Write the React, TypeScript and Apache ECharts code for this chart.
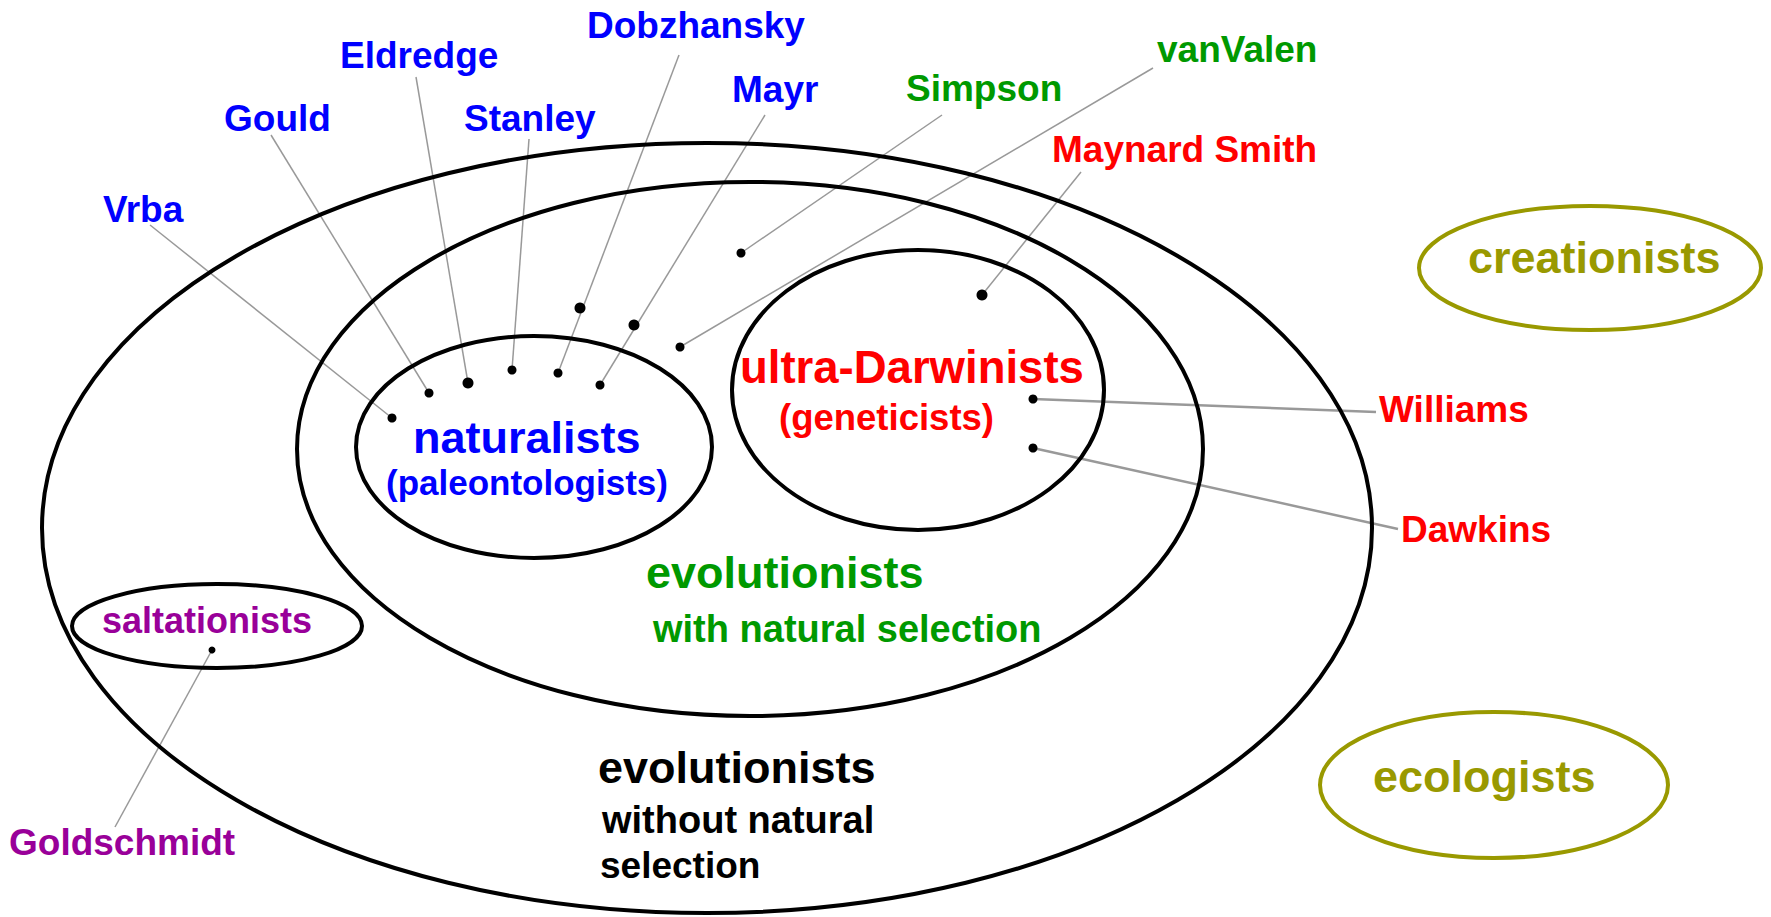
import React, { useEffect, useRef } from "react";
import * as echarts from "echarts";

const W = 1771;
const H = 917;

const BLACK = "#000000";
const BLUE = "#0000ff";
const GREEN = "#009900";
const RED = "#ff0000";
const PURPLE = "#990099";
const OLIVE = "#999900";
const GREY = "#999999";

// Sets drawn as ellipses: centre x, centre y, radius x, radius y
const setNames = ["evolutionists", "with natural selection", "naturalists", "ultra-Darwinists", "saltationists", "creationists", "ecologists"];
const setCx = [707, 750, 534, 918, 217, 1590, 1494];
const setCy = [528, 449, 447, 390, 626, 268, 785];
const setRx = [665, 453, 178, 186, 145, 171, 174];
const setRy = [385, 267, 111, 140, 42, 62, 73];
const setColor = [BLACK, BLACK, BLACK, BLACK, BLACK, OLIVE, OLIVE];

// Group titles: text, left x, baseline y, font size, colour
const titleTexts = [
  "naturalists", "(paleontologists)", "ultra-Darwinists", "(geneticists)",
  "evolutionists", "with natural selection", "evolutionists", "without natural", "selection",
  "saltationists", "creationists", "ecologists",
];
const titleX = [413, 386, 740, 779, 646, 653, 598, 602, 600, 102, 1468, 1373];
const titleY = [453, 495, 383, 430, 588, 642, 783, 833, 878, 633, 273, 792];
const titleSize = [45, 35, 45.5, 36.5, 45, 38, 45, 38, 37, 36, 45, 45];
const titleColor = [BLUE, BLUE, RED, RED, GREEN, GREEN, BLACK, BLACK, BLACK, PURPLE, OLIVE, OLIVE];

// People: name, label position (left x, baseline y), leader line start, dots
const people = ["Vrba", "Gould", "Eldredge", "Stanley", "Dobzhansky", "Mayr", "Simpson", "vanValen", "Maynard Smith", "Williams", "Dawkins", "Goldschmidt"];
const personColor = [BLUE, BLUE, BLUE, BLUE, BLUE, BLUE, GREEN, GREEN, RED, RED, RED, PURPLE];
const personX = [103, 224, 340, 464, 587, 732, 906, 1157, 1052, 1379, 1401, 9];
const personY = [222, 131, 68, 131, 38, 102, 101, 62, 162, 422, 542, 855];
const lineStart: number[][] = [
  [150, 225], [271, 135], [416, 77], [529, 139], [679, 55], [765, 115],
  [942, 115], [1153, 68], [1081, 172], [1376, 412], [1398, 529], [115, 827],
];
const lineEnd: number[][] = [
  [392, 418], [429, 393], [468, 383], [512, 370], [558, 373], [600, 385],
  [741, 253], [680, 347], [982, 295], [1033, 399], [1033, 448], [212, 650],
];
const extraDots: number[][] = [[580, 308], [634, 325]];
const bigDots = [2, 8];

function App() {
  const ref = useRef<HTMLDivElement>(null);
  useEffect(() => {
    document.body.style.margin = "0";
    const chart = echarts.init(ref.current!, null, { renderer: "svg", width: W, height: H });
    const font = '"Liberation Sans", Arial, sans-serif';
    const elements: any[] = [];
    elements.push({ type: "rect", shape: { x: 0, y: 0, width: W, height: H }, style: { fill: "#ffffff" }, silent: true });
    people.forEach((_, i) => {
      const thick = i === 9 || i === 10;
      elements.push({
        type: "line",
        shape: { x1: lineStart[i][0], y1: lineStart[i][1], x2: lineEnd[i][0], y2: lineEnd[i][1] },
        style: { stroke: GREY, lineWidth: thick ? 2.5 : 1.5 },
      });
    });
    setNames.forEach((_, i) => {
      elements.push({
        type: "ellipse",
        shape: { cx: setCx[i], cy: setCy[i], rx: setRx[i], ry: setRy[i] },
        style: { fill: "none", stroke: setColor[i], lineWidth: 4 },
      });
    });
    people.forEach((_, i) => {
      const r = bigDots.includes(i) ? 5.5 : i === 11 ? 3.5 : 4.5;
      elements.push({ type: "circle", shape: { cx: lineEnd[i][0], cy: lineEnd[i][1], r }, style: { fill: BLACK } });
    });
    extraDots.forEach((d) => {
      elements.push({ type: "circle", shape: { cx: d[0], cy: d[1], r: 5.5 }, style: { fill: BLACK } });
    });
    const addText = (text: string, x: number, baseline: number, size: number, color: string) => {
      elements.push({
        type: "text",
        x,
        y: baseline - 0.3465 * size,
        style: { text, fill: color, fontSize: size, fontWeight: "bold", fontFamily: font, align: "left", verticalAlign: "middle" },
      });
    };
    titleTexts.forEach((t, i) => addText(t, titleX[i], titleY[i], titleSize[i], titleColor[i]));
    people.forEach((p, i) => addText(p, personX[i], personY[i], 37, personColor[i]));
    chart.setOption({ animation: false, graphic: { elements } });
    return () => chart.dispose();
  }, []);
  return <div ref={ref} style={{ width: W, height: H }} />;
}

export default App;
